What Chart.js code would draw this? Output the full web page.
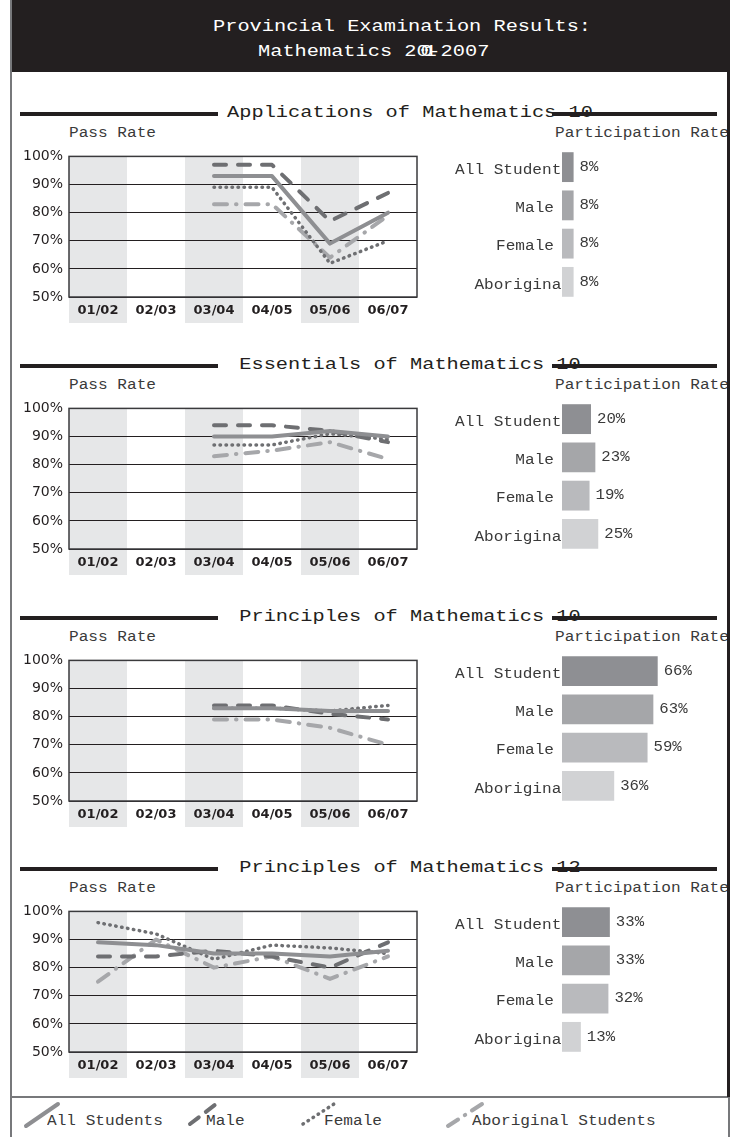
<!DOCTYPE html>
<html>
<head>
<meta charset="utf-8">
<title>Provincial Examination Results: Mathematics</title>
<script src="https://cdn.jsdelivr.net/npm/chart.js@4"></script>
<style>
    body { margin: 0; background: #fff; }
    #page {
        position: relative;
        width: 739px;
        height: 1137px;
        overflow: hidden;
        font-family: "Liberation Mono", monospace;
        color: #231f20;
    }
    .abs { position: absolute; }
    .txt { position: absolute; white-space: nowrap; transform-origin: 0 0; }
    .big { font-size: 16px; line-height: 16px; transform: scaleX(1.27); }
    .small { font-size: 14px; line-height: 14px; transform: scaleX(1.15); color: #3a3a3a; }
    .rule { position: absolute; background: #231f20; height: 4px; }
</style>
</head>
<body>
<div id="page">
    <div class="abs" style="left:10px;top:0;width:719px;height:72px;background:#231f20"></div>
    <div class="txt big" style="left:213px;top:19px;color:#fff">Provincial Examination Results:</div>
    <div class="txt big" style="left:258px;top:44px;color:#fff">Mathematics 2<span style="letter-spacing:-6.5px">001</span>-2007</div>
    <div id="panels"></div>

    <div class="abs" style="left:10px;top:1096px;width:719px;height:2px;background:#77787b"></div>
    <svg class="abs" style="left:0;top:1090px" width="739" height="47">
        <line x1="26" y1="36" x2="58" y2="14" stroke="#8e8f92" stroke-width="4" stroke-linecap="round"/>
        <line x1="190" y1="34" x2="216" y2="14" stroke="#6e6f72" stroke-width="4" stroke-linecap="round" stroke-dasharray="11 9"/>
        <line x1="303" y1="34" x2="334" y2="14" stroke="#6e6f72" stroke-width="3.5" stroke-linecap="round" stroke-dasharray="0.5 5.5"/>
        <line x1="448" y1="36" x2="482" y2="14" stroke="#a6a7aa" stroke-width="4" stroke-linecap="round" stroke-dasharray="12 8 0.5 8"/>
    </svg>
    <div class="txt small" style="left:47px;top:1114px">All Students</div>
    <div class="txt small" style="left:206px;top:1114px">Male</div>
    <div class="txt small" style="left:324px;top:1114px">Female</div>
    <div class="txt small" style="left:472px;top:1114px">Aboriginal Students</div>

    <div class="abs" style="left:10px;top:0;width:2px;height:1137px;background:#77787b"></div>
    <div class="abs" style="left:727px;top:0;width:3px;height:1097px;background:#231f20"></div>
    <div class="abs" style="left:728px;top:1097px;width:2px;height:40px;background:#77787b"></div>
</div>

<script>
const years = ['01/02', '02/03', '03/04', '04/05', '05/06', '06/07'];
const groups = ['All Students', 'Male', 'Female', 'Aboriginal'];
const courses = [
    'Applications of Mathematics 10',
    'Essentials of Mathematics 10',
    'Principles of Mathematics 10',
    'Principles of Mathematics 12'
];

// pass rate (%) by year
const apps10All = [null, null, 93, 93, 69, 80];
const apps10Male = [null, null, 97, 97, 77, 87];
const apps10Female = [null, null, 89, 89, 62, 70];
const apps10Abor = [null, null, 83, 83, 64, 79];

const ess10All = [null, null, 90, 90, 92, 90];
const ess10Male = [null, null, 94, 94, 92, 88];
const ess10Female = [null, null, 87, 87, 91, 89];
const ess10Abor = [null, null, 83, 85, 88, 82];

const prin10All = [null, null, 83, 83, 82, 82];
const prin10Male = [null, null, 84, 84, 81, 79];
const prin10Female = [null, null, 83, 83, 82, 84];
const prin10Abor = [null, null, 79, 79, 76, 70];

const prin12All = [89, 88, 85, 85, 84, 86];
const prin12Male = [84, 84, 86, 84, 80, 89];
const prin12Female = [96, 92, 83, 88, 87, 85];
const prin12Abor = [75, 90, 80, 84, 76, 84];

// participation rate (%)
const apps10Part = [8, 8, 8, 8];
const ess10Part = [20, 23, 19, 25];
const prin10Part = [66, 63, 59, 36];
const prin12Part = [33, 33, 32, 13];

const passRates = [
    [apps10All, apps10Male, apps10Female, apps10Abor],
    [ess10All, ess10Male, ess10Female, ess10Abor],
    [prin10All, prin10Male, prin10Female, prin10Abor],
    [prin12All, prin12Male, prin12Female, prin12Abor]
];
const participation = [apps10Part, ess10Part, prin10Part, prin12Part];

const plotTops = [152, 404, 656, 907];

const lineStyles = [
    { color: '#8e8f92', dash: [], width: 4 },
    { color: '#6e6f72', dash: [12, 12], width: 4 },
    { color: '#6e6f72', dash: [0.5, 5.5], width: 3.5 },
    { color: '#a6a7aa', dash: [13, 9, 0.5, 9], width: 4 }
];
const barColors = ['#8e8f93', '#a5a6a9', '#b9babd', '#d1d2d4'];

const bandPlugin = {
    id: 'bands',
    beforeDraw(chart) {
        const { ctx, chartArea, scales } = chart;
        const w = chartArea.width / years.length;
        ctx.save();
        ctx.fillStyle = '#e6e7e8';
        years.forEach((label, i) => {
            if (i % 2 === 0) {
                const cx = scales.x.getPixelForValue(i);
                ctx.fillRect(cx - w / 2, chartArea.top, w, chartArea.height + 26);
            }
        });
        ctx.restore();
    }
};

const framePlugin = {
    id: 'frame',
    beforeDatasetsDraw(chart) {
        const { ctx, chartArea: a } = chart;
        ctx.save();
        ctx.strokeStyle = '#3a3a3c';
        ctx.lineWidth = 1.5;
        ctx.strokeRect(a.left, a.top, a.width, a.height);
        ctx.restore();
    }
};

const barTextPlugin = {
    id: 'barText',
    beforeDatasetsDraw(chart) {
        // category names sit under the bars, long ones run in behind them
        const { ctx, chartArea } = chart;
        const bars = chart.getDatasetMeta(0).data;
        ctx.save();
        ctx.font = '14px "Liberation Mono"';
        ctx.fillStyle = '#3a3a3a';
        ctx.textAlign = 'right';
        ctx.textBaseline = 'middle';
        bars.forEach((bar, i) => {
            const label = chart.data.labels[i];
            const w = ctx.measureText(label).width * 1.15;
            const right = chartArea.left - 8 + (w > 90 ? 17 : 0);
            ctx.save();
            ctx.translate(right, bar.y + 3);
            ctx.scale(1.15, 1);
            ctx.fillText(label, 0, 0);
            ctx.restore();
        });
        ctx.restore();
    },
    afterDatasetsDraw(chart) {
        const { ctx } = chart;
        const bars = chart.getDatasetMeta(0).data;
        const values = chart.data.datasets[0].data;
        ctx.save();
        ctx.font = '14px "Liberation Mono"';
        ctx.fillStyle = '#3a3a3a';
        ctx.textAlign = 'left';
        ctx.textBaseline = 'middle';
        bars.forEach((bar, i) => {
            ctx.save();
            ctx.translate(bar.x + 6, bar.y);
            ctx.scale(1.12, 1);
            ctx.fillText(values[i] + '%', 0, 0);
            ctx.restore();
        });
        ctx.restore();
    }
};

function addDiv(cls, style, text) {
    const d = document.createElement('div');
    d.className = cls;
    d.style.cssText = style;
    if (text !== undefined) d.textContent = text;
    document.getElementById('panels').appendChild(d);
    return d;
}

function addCanvas(left, top, w, h) {
    const d = addDiv('abs', `left:${left}px;top:${top}px;width:${w}px;height:${h}px`);
    const c = document.createElement('canvas');
    c.width = w;
    c.height = h;
    d.appendChild(c);
    return c;
}

courses.forEach((course, p) => {
    const T = plotTops[p];

    // panel heading
    addDiv('txt big', `left:0;width:820px;text-align:center;top:${T - 47}px;transform-origin:410px 0`, course);
    addDiv('rule', `left:20px;top:${T - 40}px;width:198px`);
    addDiv('rule', `left:552px;top:${T - 40}px;width:165px`);
    addDiv('txt small', `left:69px;top:${T - 26}px`, 'Pass Rate');
    addDiv('txt small', `left:555px;top:${T - 26}px`, 'Participation Rate');

    // pass rate lines
    new Chart(addCanvas(14, T - 10, 410, 185), {
        type: 'line',
        data: {
            labels: years,
            datasets: groups.map((g, i) => ({
                label: g,
                data: passRates[p][i],
                borderColor: lineStyles[i].color,
                borderDash: lineStyles[i].dash,
                borderWidth: lineStyles[i].width,
                borderCapStyle: 'round',
                borderJoinStyle: 'round',
                pointRadius: 0,
                tension: 0,
                fill: false
            }))
        },
        options: {
            responsive: false,
            animation: false,
            devicePixelRatio: 1,
            layout: { padding: { top: 10, right: 7, left: 0, bottom: 0 } },
            scales: {
                x: {
                    offset: true,
                    grid: { display: false, drawTicks: false },
                    border: { display: false },
                    afterFit(s) { s.height = 30; },
                    ticks: {
                        color: '#231f20',
                        font: { family: 'DejaVu Sans', size: 13, weight: 'bold' },
                        padding: 6,
                        maxRotation: 0,
                        autoSkip: false
                    }
                },
                y: {
                    min: 50,
                    max: 100,
                    afterFit(s) { s.width = 55; },
                    grid: { color: '#231f20', lineWidth: 1, drawTicks: false },
                    border: { display: false },
                    ticks: {
                        stepSize: 10,
                        callback: v => v + '%',
                        color: '#231f20',
                        font: { family: 'DejaVu Sans', size: 14 },
                        padding: 6
                    }
                }
            },
            plugins: { legend: { display: false }, tooltip: { enabled: false } }
        },
        plugins: [bandPlugin, framePlugin]
    });

    // participation bars
    new Chart(addCanvas(430, T - 10, 290, 165), {
        type: 'bar',
        data: {
            labels: groups,
            datasets: [{
                data: participation[p],
                backgroundColor: barColors,
                barPercentage: 0.78,
                categoryPercentage: 1
            }]
        },
        options: {
            indexAxis: 'y',
            responsive: false,
            animation: false,
            devicePixelRatio: 1,
            layout: { padding: { left: 132, right: 13, top: 6, bottom: 6 } },
            scales: {
                x: { display: false, min: 0, max: 100 },
                y: { display: false }
            },
            plugins: { legend: { display: false }, tooltip: { enabled: false } }
        },
        plugins: [barTextPlugin]
    });
});
</script>
</body>
</html>
